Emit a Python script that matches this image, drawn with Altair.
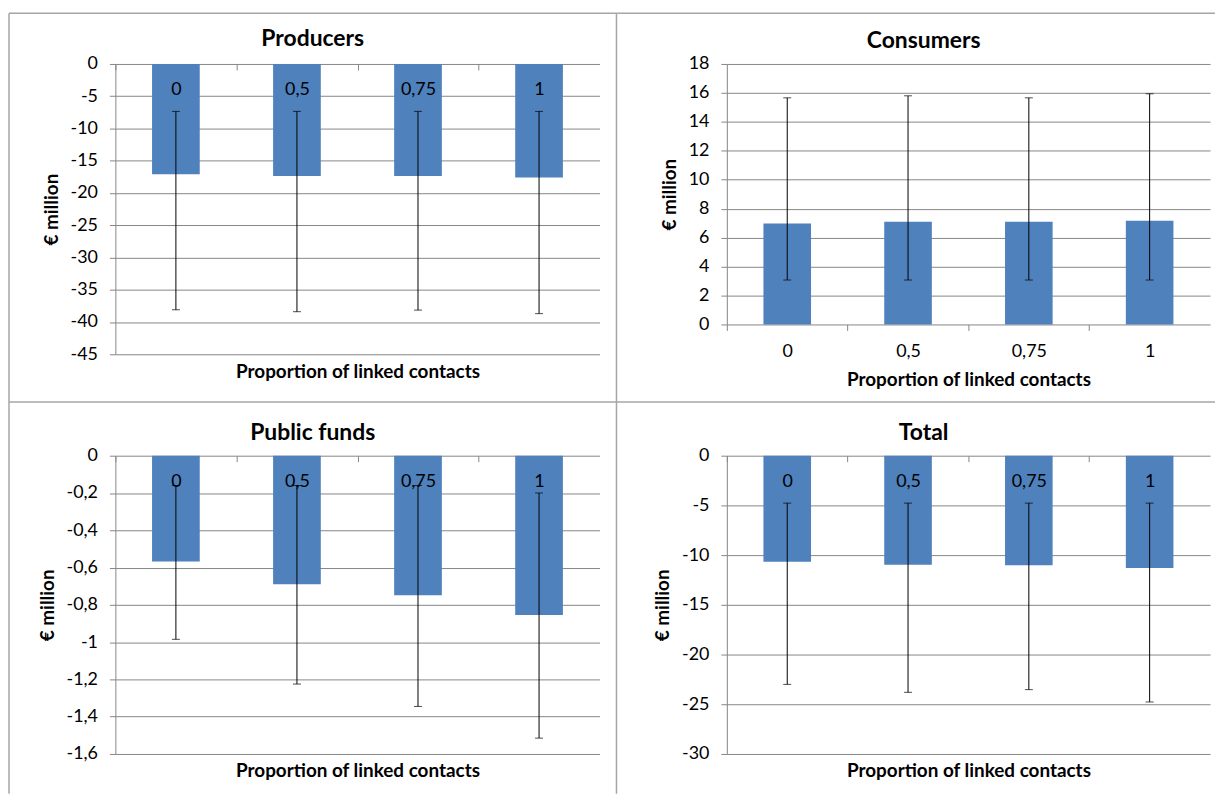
import altair as alt
import pandas as pd

# ---- data ----
categories = ["0", "0,5", "0,75", "1"]

producers_mean = [-17.1, -17.35, -17.35, -17.6]
producers_high = [-7.35, -7.35, -7.35, -7.35]
producers_low = [-38.1, -38.4, -38.15, -38.7]
producers_ticks = [0, -5, -10, -15, -20, -25, -30, -35, -40, -45]

consumers_mean = [6.97, 7.09, 7.09, 7.16]
consumers_low = [3.07, 3.07, 3.07, 3.07]
consumers_high = [15.66, 15.8, 15.66, 15.94]
consumers_ticks = [0, 2, 4, 6, 8, 10, 12, 14, 16, 18]

public_mean = [-0.567, -0.69, -0.748, -0.855]
public_high = [-0.16, -0.16, -0.16, -0.2]
public_low = [-0.985, -1.225, -1.345, -1.515]
public_ticks = [0, -0.2, -0.4, -0.6, -0.8, -1, -1.2, -1.4, -1.6]

total_mean = [-10.67, -10.97, -11.03, -11.3]
total_high = [-4.77, -4.77, -4.77, -4.77]
total_low = [-23.0, -23.8, -23.53, -24.77]
total_ticks = [0, -5, -10, -15, -20, -25, -30]

BLUE = "#4F81BD"
GRID = "#868686"
BORDER = "#A6A6A6"
FONT = "Lato"
XTITLE = "Proportion of linked contacts"
LABEL_SIZE = 18
TITLE_SIZE = 19
PANEL_TITLE_SIZE = 23


def panel(title, mean, low, high, ticks, width, height, negative, borders=False):
    df = pd.DataFrame({"cat": categories, "mean": mean, "low": low, "high": high})
    step = width / len(categories)
    xaxis = alt.Axis(
        orient="bottom",
        offset=-height if negative else 0,
        title=XTITLE,
        titleY=(height + 8) if negative else 46,
        titleBaseline="top",
        labelAngle=0,
        labelFontSize=LABEL_SIZE,
        domain=False,
        ticks=True,
        tickSize=6,
        tickColor=GRID,
        tickOffset=-step / 2,
        labelOffset=step / 2,
        labelPadding=11 if negative else 12,
        zindex=1,
    )
    x = alt.X(
        "cat:N",
        sort=categories,
        scale=alt.Scale(paddingInner=0.606, paddingOuter=0.303),
        axis=xaxis,
    )
    yscale = alt.Scale(domain=[min(ticks), max(ticks)], nice=False)
    yaxis = alt.Axis(
        title="€ million",
        values=ticks,
        tickCount=30,
        labelExpr="replace('' + datum.value, '.', ',')",
        labelOverlap=False,
        grid=True,
        gridColor=GRID,
        domainColor=GRID,
        tickColor=GRID,
        tickSize=6,
        labelPadding=12,
        titlePadding=9,
    )
    base = alt.Chart(df)
    bars = base.mark_bar(color=BLUE).encode(
        x=x, y=alt.Y("mean:Q", scale=yscale, axis=yaxis)
    )
    rules = base.mark_rule(color="black", strokeWidth=1).encode(
        x=alt.X("cat:N", sort=categories),
        y=alt.Y("low:Q", title="€ million"),
        y2="high:Q",
    )
    cap_lo = base.mark_tick(color="black", size=8, thickness=1).encode(
        x=alt.X("cat:N", sort=categories), y=alt.Y("low:Q", title="€ million")
    )
    cap_hi = base.mark_tick(color="black", size=8, thickness=1).encode(
        x=alt.X("cat:N", sort=categories), y=alt.Y("high:Q", title="€ million")
    )
    layers = [bars, rules, cap_lo, cap_hi]
    title_offset = 2
    if borders:
        one = alt.Chart(pd.DataFrame({"k": [0]}))
        s = dict(color=BORDER, strokeWidth=1.5)
        layers += [
            one.mark_rule(**s).encode(x=alt.value(-107), x2=alt.value(1106), y=alt.value(-51)),
            one.mark_rule(**s).encode(x=alt.value(-107), y=alt.value(-51), y2=alt.value(734)),
            one.mark_rule(**s).encode(x=alt.value(504), y=alt.value(-51), y2=alt.value(734)),
            one.mark_rule(**s).encode(x=alt.value(-107), x2=alt.value(1106), y=alt.value(340)),
        ]
        # the border lines enlarge this panel's bounds; pull the title back down
        title_offset = -39
    return alt.layer(*layers).properties(
        width=width,
        height=height,
        title=alt.TitleParams(
            text=title, fontSize=PANEL_TITLE_SIZE, fontWeight="bold", font=FONT,
            anchor="middle", frame="group", offset=title_offset, dx=-45,
            color="black",
        ),
    )


p1 = panel("Producers", producers_mean, producers_low, producers_high,
           producers_ticks, 487, 292, True, borders=True)
p2 = panel("Consumers", consumers_mean, consumers_low, consumers_high,
           consumers_ticks, 486, 262, False)
p3 = panel("Public funds", public_mean, public_low, public_high,
           public_ticks, 487, 300, True)
p4 = panel("Total", total_mean, total_low, total_high,
           total_ticks, 486, 300, True)

chart = alt.concat(
    p1, p2, p3, p4,
    columns=2,
    spacing={"row": 102, "column": 128},
    bounds="flush",
    align="each",
).properties(
    padding={"left": 0, "top": 2, "right": 0, "bottom": 0},
    background="white",
).configure_axis(
    labelFont=FONT,
    titleFont=FONT,
    labelFontSize=LABEL_SIZE,
    titleFontSize=TITLE_SIZE,
    labelColor="black",
    titleColor="black",
    titleFontWeight="bold",
).configure_view(strokeWidth=0)

chart.save("out.html", embed_options={"renderer": "svg", "actions": False})
